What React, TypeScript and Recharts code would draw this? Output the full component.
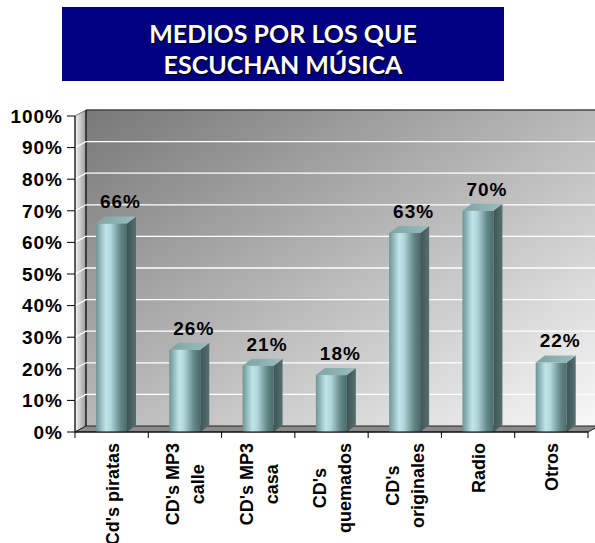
import React from 'react';
import { BarChart, Bar, XAxis, YAxis, CartesianGrid, LabelList } from 'recharts';

const categories = ["Cd's piratas", "CD's MP3\ncalle", "CD's MP3\ncasa", "CD's\nquemados", "CD's\noriginales", 'Radio', 'Otros'];
const values = [66, 26, 21, 18, 63, 70, 22];
const yTicks = [0, 10, 20, 30, 40, 50, 60, 70, 80, 90, 100];

const data = categories.map((name, i) => ({ name, value: values[i] }));

// layout
const W = 595;
const H = 543;
const PLOT_LEFT = 75;
const PLOT_RIGHT = 588;
const PLOT_TOP = 116;
const PLOT_BOTTOM = 432;
const DX = 11; // depth of the back wall
const DY = 6;
const BAR_DX = 9; // depth of a bar
const BAR_DY = 7;
const FONT = '"Liberation Sans", Arial, sans-serif';

const ctx = typeof document !== 'undefined' ? document.createElement('canvas').getContext('2d') : null;
const measure = (t: string) => {
  if (!ctx) return t.length * 10;
  ctx.font = `bold 18px "Liberation Sans"`;
  return ctx.measureText(t).width;
};

const BarShape = (props: any) => {
  const { x, y, width, height } = props;
  if (height <= 0) return null;
  const r = x + width;
  return (
    <g>
      <rect x={x} y={y} width={width} height={height} fill="url(#barFront)" />
      <polygon
        points={`${r},${y} ${r + BAR_DX},${y - BAR_DY} ${r + BAR_DX},${y + height - BAR_DY} ${r},${y + height}`}
        fill="url(#barSide)"
      />
      <polygon
        points={`${x},${y} ${x + BAR_DX},${y - BAR_DY} ${r + BAR_DX},${y - BAR_DY} ${r},${y}`}
        fill="url(#barTop)"
      />
    </g>
  );
};

const ValueLabel = (props: any) => {
  const { x, y, width, value } = props;
  return (
    <text
      x={x + width / 2 + 9}
      y={y - 15}
      textAnchor="middle"
      fontFamily={FONT}
      fontWeight="bold"
      fontSize={19}
      letterSpacing={1}
      fill="#000"
    >
      {value}%
    </text>
  );
};

const YTick = (props: any) => {
  const { x, y, payload } = props;
  return (
    <text x={x} y={y} dy="0.36em" textAnchor="end" fontFamily={FONT} fontWeight="bold" fontSize={19} letterSpacing={1} fill="#000">
      {payload.value}%
    </text>
  );
};

const XTick = (props: any) => {
  const { x, index, payload } = props;
  const bw = (PLOT_RIGHT - PLOT_LEFT) / categories.length;
  const lines = String(payload.value).split('\n');
  const blockW = Math.max(...lines.map(measure));
  const startV = 7 - (lines.length - 1) * 12.5;
  return (
    <g>
      <line x1={x - bw / 2} y1={PLOT_BOTTOM} x2={x - bw / 2} y2={PLOT_BOTTOM + 6} stroke="#000" />
      {index === categories.length - 1 && (
        <line x1={x + bw / 2} y1={PLOT_BOTTOM} x2={x + bw / 2} y2={PLOT_BOTTOM + 6} stroke="#000" />
      )}
      <g transform={`translate(${x},${PLOT_BOTTOM + 11}) rotate(-90)`}>
        {lines.map((l, i) => (
          <text
            key={i}
            x={-blockW / 2}
            y={startV + i * 25}
            textAnchor="middle"
            fontFamily={FONT}
            fontWeight="bold"
            fontSize={18}
            fill="#000"
          >
            {l}
          </text>
        ))}
      </g>
    </g>
  );
};

const GridLine = (props: any) => {
  const { x1, x2, y1, index } = props;
  if (Math.abs(y1 - PLOT_TOP) < 1 || Math.abs(y1 - PLOT_BOTTOM) < 1) return <g key={`g-${index}`} />;
  return (
    <polyline
      key={`g-${index}`}
      points={`${x1},${y1} ${x1 + DX},${y1 - DY} ${x2 + DX + 10},${y1 - DY}`}
      fill="none"
      stroke="#fff"
      strokeWidth={1.3}
    />
  );
};

const App: React.FC = () => {
  return (
    <div style={{ position: 'absolute', left: 0, top: 0, width: W, height: H, background: '#fff' }}>
      <div
        style={{
          position: 'absolute',
          left: 62,
          top: 7,
          width: 442,
          height: 74,
          boxSizing: 'border-box',
          paddingTop: 11,
          background: '#000080',
          color: '#fff',
          fontFamily: 'Lato, "Open Sans", sans-serif',
          fontWeight: 700,
          fontSize: 25,
          lineHeight: '31px',
          textAlign: 'center',
          textShadow: '1px 1px 1px #000',
        }}
      >
        MEDIOS POR LOS QUE
        <br />
        ESCUCHAN MÚSICA
      </div>

      <svg width={W} height={H} style={{ position: 'absolute', left: 0, top: 0 }}>
        <defs>
          <linearGradient id="wall" x1="0" y1="0" x2="1" y2="1">
            <stop offset="0%" stopColor="#787878" />
            <stop offset="100%" stopColor="#f8f8f8" />
          </linearGradient>
          <linearGradient id="leftWall" x1="0" y1="0" x2="1" y2="0">
            <stop offset="0%" stopColor="#f4f4f4" />
            <stop offset="100%" stopColor="#9a9a9a" />
          </linearGradient>
        </defs>
        <rect x={PLOT_LEFT + DX} y={PLOT_TOP - DY} width={W - PLOT_LEFT - DX} height={PLOT_BOTTOM - PLOT_TOP} fill="url(#wall)" />
        <line x1={PLOT_LEFT + DX} y1={PLOT_TOP - DY} x2={W} y2={PLOT_TOP - DY} stroke="#444" strokeWidth={1.5} />
        <polygon
          points={`${PLOT_LEFT},${PLOT_TOP} ${PLOT_LEFT + DX},${PLOT_TOP - DY} ${PLOT_LEFT + DX},${PLOT_BOTTOM - DY} ${PLOT_LEFT},${PLOT_BOTTOM}`}
          fill="url(#leftWall)"
          stroke="#555"
          strokeWidth={0.8}
        />
        <line x1={PLOT_LEFT + DX} y1={PLOT_TOP - DY} x2={PLOT_LEFT + DX} y2={PLOT_BOTTOM - DY} stroke="#111" strokeWidth={1.2} />
      </svg>

      <svg width={W} height={H} style={{ position: 'absolute', left: 0, top: 0 }}>
        <polygon
          points={`${PLOT_LEFT},${PLOT_BOTTOM} ${PLOT_LEFT + DX},${PLOT_BOTTOM - DY} ${PLOT_RIGHT + DX},${PLOT_BOTTOM - DY} ${PLOT_RIGHT},${PLOT_BOTTOM}`}
          fill="#8a8a8a"
          stroke="#222"
          strokeWidth={1}
        />
      </svg>

      <div style={{ position: 'absolute', left: 0, top: 0 }}>
        <BarChart width={W} height={H} data={data} margin={{ top: PLOT_TOP, right: W - PLOT_RIGHT, bottom: 0, left: 0 }}>
          <defs>
            <linearGradient id="barFront" x1="0" y1="0" x2="1" y2="0">
              <stop offset="0%" stopColor="#6e9595" />
              <stop offset="32%" stopColor="#bfe5e9" />
              <stop offset="48%" stopColor="#afd6da" />
              <stop offset="80%" stopColor="#628686" />
              <stop offset="100%" stopColor="#4d6b6c" />
            </linearGradient>
            <linearGradient id="barSide" x1="0" y1="0" x2="1" y2="0">
              <stop offset="0%" stopColor="#3f5555" />
              <stop offset="100%" stopColor="#566f70" />
            </linearGradient>
            <linearGradient id="barTop" x1="0" y1="0" x2="1" y2="0">
              <stop offset="0%" stopColor="#7fa3a4" />
              <stop offset="100%" stopColor="#9abdbd" />
            </linearGradient>
          </defs>
          <CartesianGrid vertical={false} horizontal={GridLine} />
          <XAxis
            dataKey="name"
            height={H - PLOT_BOTTOM}
            interval={0}
            tickLine={false}
            tickSize={0}
            tickMargin={0}
            axisLine={{ stroke: '#000' }}
            tick={XTick}
          />
          <YAxis
            width={PLOT_LEFT}
            domain={[0, 100]}
            ticks={yTicks}
            interval={0}
            tickSize={8}
            tickMargin={4}
            axisLine={{ stroke: '#000' }}
            tickLine={{ stroke: '#000' }}
            tick={YTick}
          />
          <Bar dataKey="value" barSize={31} shape={BarShape} isAnimationActive={false}>
            <LabelList dataKey="value" content={ValueLabel} />
          </Bar>
        </BarChart>
      </div>
    </div>
  );
};

export default App;
